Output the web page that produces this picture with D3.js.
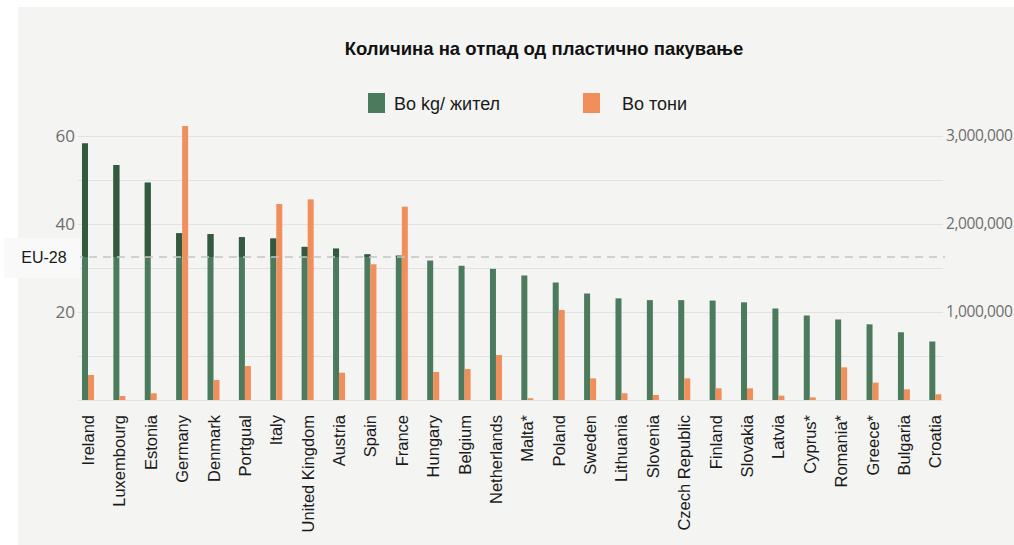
<!DOCTYPE html>
<html>
<head>
<meta charset="utf-8">
<script src="https://cdn.jsdelivr.net/npm/d3@7"></script>
<style>
  body { margin: 0; background: #fff; }
  svg { display: block; }
</style>
</head>
<body>
<svg id="chart" width="1014" height="545"></svg>
<script>
const countries = ['Ireland', 'Luxembourg', 'Estonia', 'Germany', 'Denmark', 'Portgual', 'Italy',
  'United Kingdom', 'Austria', 'Spain', 'France', 'Hungary', 'Belgium', 'Netherlands', 'Malta*',
  'Poland', 'Sweden', 'Lithuania', 'Slovenia', 'Czech Republic', 'Finland', 'Slovakia', 'Latvia',
  'Cyprus*', 'Romania*', 'Greece*', 'Bulgaria', 'Croatia'];
const kgPerCapita = [58.3, 53.4, 49.4, 37.9, 37.7, 37.0, 36.7, 34.8, 34.4, 33.1, 32.8, 31.7, 30.5,
  29.8, 28.3, 26.7, 24.2, 23.1, 22.7, 22.7, 22.6, 22.2, 20.8, 19.2, 18.3, 17.2, 15.4, 13.3];
const tonnes = [284000, 45000, 76000, 3113000, 227000, 386000, 2227000, 2280000, 310000, 1542000,
  2197000, 318000, 352000, 511000, 20000, 1023000, 246000, 76000, 57000, 246000, 133000, 133000,
  49000, 30000, 371000, 197000, 121000, 65000];
const eu28 = 32.5;
const leftTicks = [20, 40, 60];
const gridTicks = [0, 10, 20, 30, 40, 50, 60];
const rightTicks = [1000000, 2000000, 3000000];
const legendLabels = ['Во kg/ жител', 'Во тони'];
const title = 'Количина на отпад од пластично пакување';

const svg = d3.select('#chart');
const green = '#4b7a5d', greenDark = '#33593f', orange = '#f08f5b';

// panel background
svg.append('rect').attr('x', 18).attr('y', 7).attr('width', 996).attr('height', 538).attr('fill', '#f4f4f2');

const x = d3.scaleBand().domain(countries).range([72.3, 951]);
const y = d3.scaleLinear().domain([0, 60]).range([400, 136]);
const yR = d3.scaleLinear().domain([0, 3000000]).range([400, 136]);

// grid
svg.append('g')
  .attr('transform', 'translate(78,0)')
  .call(d3.axisLeft(y).tickValues(gridTicks).tickSize(-865).tickFormat(''))
  .call(g => g.select('.domain').remove())
  .selectAll('line').attr('stroke', '#e2e2e0').attr('stroke-width', 1);

// left axis
svg.append('g')
  .attr('transform', 'translate(75,0)')
  .call(d3.axisLeft(y).tickValues(leftTicks).tickSize(0).tickPadding(0))
  .call(g => g.select('.domain').remove())
  .selectAll('text')
  .attr('font-family', 'Open Sans').attr('font-size', 17).attr('fill', '#6e6e6e');

// right axis
svg.append('g')
  .attr('transform', 'translate(946,0)')
  .call(d3.axisRight(yR).tickValues(rightTicks).tickSize(0).tickPadding(0).tickFormat(d3.format(',')))
  .call(g => g.select('.domain').remove())
  .selectAll('text')
  .attr('font-family', 'Open Sans').attr('font-size', 15.5).attr('letter-spacing', -0.4).attr('fill', '#6e6e6e');

const barW = 6;
const bars = svg.append('g');

bars.selectAll('rect.kg')
  .data(countries)
  .enter().append('rect')
  .attr('class', 'kg')
  .attr('x', d => x(d) + x.bandwidth() / 2 - barW)
  .attr('y', (d, i) => y(kgPerCapita[i]))
  .attr('width', barW)
  .attr('height', (d, i) => y(0) - y(kgPerCapita[i]))
  .attr('fill', green);

// darker part of the green bars above the EU-28 line
svg.append('clipPath').attr('id', 'above-eu')
  .append('rect').attr('x', 0).attr('y', 0).attr('width', 1014).attr('height', y(eu28));

bars.append('g').attr('clip-path', 'url(#above-eu)')
  .selectAll('rect')
  .data(countries)
  .enter().append('rect')
  .attr('x', d => x(d) + x.bandwidth() / 2 - barW)
  .attr('y', (d, i) => y(kgPerCapita[i]))
  .attr('width', barW)
  .attr('height', (d, i) => y(0) - y(kgPerCapita[i]))
  .attr('fill', greenDark);

bars.selectAll('rect.t')
  .data(countries)
  .enter().append('rect')
  .attr('class', 't')
  .attr('x', d => x(d) + x.bandwidth() / 2)
  .attr('y', (d, i) => yR(tonnes[i]))
  .attr('width', barW)
  .attr('height', (d, i) => yR(0) - yR(tonnes[i]))
  .attr('fill', orange);

// EU-28 line
svg.append('line')
  .attr('x1', 75).attr('x2', 945)
  .attr('y1', y(eu28)).attr('y2', y(eu28))
  .attr('stroke', '#c4c4c2').attr('stroke-width', 1.3).attr('stroke-dasharray', '8,6');

svg.append('rect').attr('x', 4).attr('y', y(eu28) - 19).attr('width', 76).attr('height', 40).attr('fill', '#f9f9f9');
svg.append('text').attr('x', 44).attr('y', y(eu28) + 6)
  .attr('text-anchor', 'middle')
  .attr('font-family', 'Liberation Sans').attr('font-size', 16).attr('fill', '#1a1a1a')
  .text('EU-28');

// x labels
svg.append('g')
  .selectAll('text')
  .data(countries)
  .enter().append('text')
  .attr('transform', d => `translate(${x(d) + x.bandwidth() / 2 + 6},415) rotate(-90)`)
  .attr('text-anchor', 'end')
  .attr('font-family', 'Liberation Sans').attr('font-size', 16.5).attr('fill', '#1a1a1a')
  .text(d => d);

// title
svg.append('text').attr('x', 544).attr('y', 55)
  .attr('text-anchor', 'middle')
  .attr('font-family', 'Liberation Sans').attr('font-weight', 'bold').attr('font-size', 18.5)
  .attr('fill', '#111')
  .text(title);

// legend
const legend = svg.append('g');
const legendX = [368, 583];
const legendTextX = [394, 622];
const legendColors = [green, orange];
legendLabels.forEach((lab, i) => {
  legend.append('rect').attr('x', legendX[i]).attr('y', 93).attr('width', 17).attr('height', 20).attr('fill', legendColors[i]);
  legend.append('text').attr('x', legendTextX[i]).attr('y', 110)
    .attr('font-family', 'Liberation Sans').attr('font-size', 18).attr('fill', '#1a1a1a')
    .text(lab);
});
</script>
</body>
</html>
